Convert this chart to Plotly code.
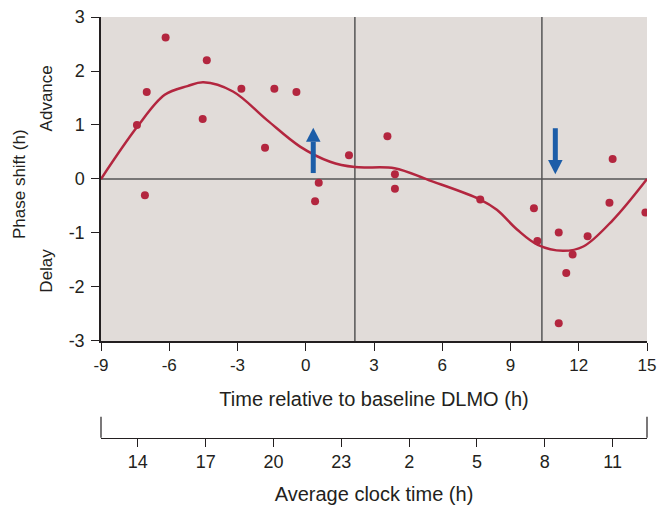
import plotly.graph_objects as go

# ---- data ----
pts_x = [-7.42, -6.99, -7.07, -6.16, -4.35, -4.53, -2.83, -1.79, -1.38, -0.41,
         0.57, 0.41, 1.90, 3.59, 3.92, 3.92, 7.67, 10.03, 10.18, 11.12,
         12.39, 11.73, 11.45, 11.12, 13.35, 13.49, 14.93]
pts_y = [1.00, 1.61, -0.30, 2.62, 2.20, 1.11, 1.67, 0.58, 1.67, 1.61,
         -0.07, -0.41, 0.44, 0.79, 0.09, -0.18, -0.38, -0.54, -1.15, -0.99,
         -1.06, -1.40, -1.74, -2.67, -0.44, 0.37, -0.62]

curve_x = [-9, -7.4, -6.2, -5.2, -4.5, -3.2, -1.7, -0.25, 1.07, 2.16, 3.9, 5.4,
           7.67, 8.4, 9.3, 10.2, 11.3, 12.2, 13.5, 15]
curve_y = [0, 0.97, 1.56, 1.72, 1.79, 1.62, 1.09, 0.60, 0.32, 0.22, 0.20, -0.02,
           -0.38, -0.57, -0.94, -1.22, -1.33, -1.25, -0.76, 0]

x_ticks = [-9, -6, -3, 0, 3, 6, 9, 12, 15]
x_text = ["-9", "-6", "-3", "0", "3", "6", "9", "12", "15"]
y_ticks = [-3, -2, -1, 0, 1, 2, 3]
y_text = ["-3", "-2", "-1", "0", "1", "2", "3"]
clock_vals = [14, 17, 20, 23, 26, 29, 32, 35]
clock_text = ["14", "17", "20", "23", "2", "5", "8", "11"]
clock_range = [12.37, 36.52]
vlines = [2.16, 10.38]
arrow_up = (0.33, 0.11, 0.95)     # x, tail y, tip y
arrow_down = (10.97, 0.94, 0.09)

RED = "#B3263F"
BLUE = "#1C5DA8"
FONT = "Liberation Sans, Arial, sans-serif"
TXT = "#231F20"
FS = 17
TFS = 18

fig = go.Figure()
fig.add_trace(go.Scatter(x=curve_x, y=curve_y, mode="lines",
                         line=dict(color=RED, width=2.5, shape="spline", smoothing=1.0),
                         hoverinfo="skip", showlegend=False))
fig.add_trace(go.Scatter(x=pts_x, y=pts_y, mode="markers",
                         marker=dict(color=RED, size=8), showlegend=False))
# invisible trace for the clock-time axis
fig.add_trace(go.Scatter(x=[clock_vals[0]], y=[0], xaxis="x2", yaxis="y",
                         mode="markers", marker=dict(opacity=0), hoverinfo="skip",
                         showlegend=False))

# reference lines
fig.add_hline(y=0, line=dict(color="#555555", width=1.5), layer="below")
for v in vlines:
    fig.add_vline(x=v, line=dict(color="#555555", width=1.5), layer="below")

# arrows (shaft + head)
hw, hh = 0.32, 0.26
for ax_, y0, y1 in [arrow_up, arrow_down]:
    d = 1 if y1 > y0 else -1
    base = y1 - d * hh
    fig.add_shape(type="line", x0=ax_, x1=ax_, y0=y0, y1=base, xref="x", yref="y",
                  line=dict(color=BLUE, width=5), layer="above")
    fig.add_shape(type="path", xref="x", yref="y",
                  path=f"M {ax_-hw},{base} L {ax_+hw},{base} L {ax_},{y1} Z",
                  fillcolor=BLUE, line=dict(width=0), layer="above")

# end brackets of clock axis
POS2 = 0.0239
for xp in [0, 1]:
    fig.add_shape(type="line", xref="paper", yref="paper", x0=xp, x1=xp,
                  y0=POS2, y1=0.0726, line=dict(color=TXT, width=1.2))

# side labels
for txt, xp, yv in [("Phase shift (h)", -0.148, -0.09),
                    ("Advance", -0.1, 1.5),
                    ("Delay", -0.1, -1.69)]:
    fig.add_annotation(text=txt, xref="paper", yref="y", x=xp, y=yv,
                       xanchor="center", yanchor="middle", textangle=-90,
                       showarrow=False, font=dict(size=FS, color=TXT, family=FONT))

fig.update_layout(
    width=657, height=508,
    margin=dict(l=101, r=10, t=17, b=60),
    paper_bgcolor="white", plot_bgcolor="#E1DCD9",
    font=dict(family=FONT, size=FS, color=TXT),
    xaxis=dict(range=[-9, 15], tickvals=x_ticks, ticktext=x_text, ticks="outside",
               ticklen=8, tickcolor=TXT, showline=True, linecolor=TXT, linewidth=1.5,
               showgrid=False, zeroline=False, automargin=False,
               tickfont=dict(size=FS),
               title=dict(text="Time relative to baseline DLMO (h)", standoff=18)),
    yaxis=dict(range=[-3, 3], tickvals=y_ticks, ticktext=y_text, ticks="outside",
               ticklen=8, tickcolor=TXT, showline=True, linecolor=TXT, linewidth=1.5,
               showgrid=False, zeroline=False, domain=[0.2483, 1], automargin=False,
               tickfont=dict(size=TFS), ticklabelstandoff=3),
    xaxis2=dict(overlaying="x", anchor="free", position=POS2, side="bottom",
                range=clock_range, tickvals=clock_vals, ticktext=clock_text,
                ticks="outside", ticklen=8, tickcolor=TXT, showline=True,
                linecolor=TXT, linewidth=1.2, showgrid=False, zeroline=False,
                automargin=False, tickfont=dict(size=TFS),
                title=dict(text="Average clock time (h)", standoff=15)),
)

fig.write_html("out.html")
